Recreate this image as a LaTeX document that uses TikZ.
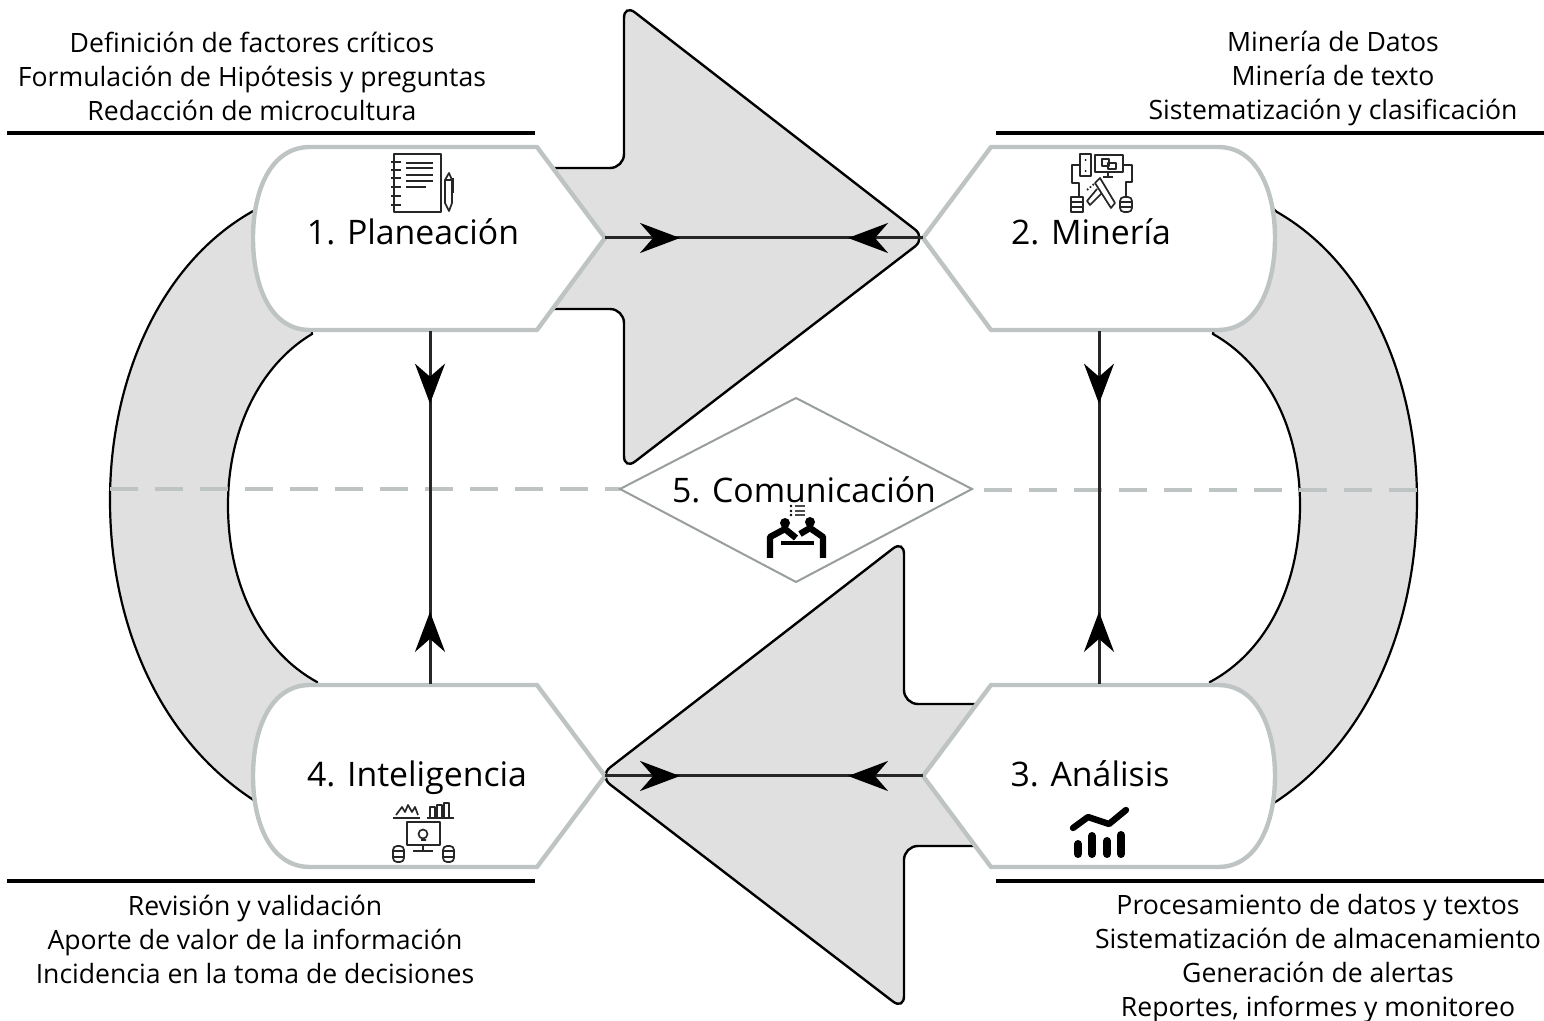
\documentclass[tikz,border=0pt]{standalone}
\usepackage{fontspec}
\setmainfont{Open Sans}
\usetikzlibrary{arrows.meta,decorations.markings}
\definecolor{ringgray}{HTML}{E0E0E0}
\definecolor{edgegray}{HTML}{BEC4C4}
\tikzset{
  ring/.style={draw=black,line width=1.1pt,fill=ringgray},
  bigarrow/.style={draw=black,line width=1.2pt,fill=ringgray,rounded corners=7pt},
  stagebox/.style={draw=edgegray,line width=2.2pt,fill=white,line join=round},
  rulebar/.style={draw=black,line width=1.7pt},
  stagename/.style={font=\fontsize{16.9}{20}\selectfont},
  tasklist/.style={font=\fontsize{13.3}{17}\selectfont,align=center},
  midline/.style={draw=edgegray,line width=2.4pt,dash pattern=on 14pt off 8.5pt},
  icon/.style={draw=black!85,line width=.85pt,line join=round},
  bold/.style={draw=black,line width=3.2pt,line cap=round},
  flowline/.style={draw=black!85,line width=1.5pt},
  twoheads/.style 2 args={flowline,postaction={decorate,decoration={markings,
    mark=at position #1 with {\arrow[black]{Stealth[length=20pt,width=15pt,inset=6.5pt]}},
    mark=at position #2 with {\arrow[black]{Stealth[length=20pt,width=15pt,inset=6.5pt,reversed]}}}}},
}
\begin{document}
\begin{tikzpicture}[x=.5pt,y=-.5pt]
\useasboundingbox (0,0) rectangle (1544,1021);
% side rings
\draw[ring] (300,170) -- (255,210) .. controls (160,262) and (110,380) .. (110,500)
  .. controls (110,625) and (160,740) .. (255,801) -- (300,830) -- (317,682)
  .. controls (262,652) and (228,586) .. (228,505) .. controls (228,430) and (260,365) .. (312,334) -- cycle;
\draw[ring] (1228,170) -- (1277,212) .. controls (1368,264) and (1417,380) .. (1417,500)
  .. controls (1417,625) and (1368,740) .. (1277,801) -- (1228,830) -- (1210,682)
  .. controls (1266,652) and (1300,586) .. (1300,505) .. controls (1300,430) and (1268,365) .. (1213,334) -- cycle;
% big arrows
\draw[bigarrow] (540,168) -- (624,168) -- (624,4) -- (926,238) -- (624,470) -- (624,309) -- (540,309) -- cycle;
\draw[bigarrow] (1000,704) -- (904,704) -- (904,540) -- (599,776) -- (904,1010) -- (904,846) -- (1000,846) -- cycle;
% rules over the lists
\draw[rulebar] (7,133) -- (535,133);
\draw[rulebar] (996,133) -- (1544,133);
\draw[rulebar] (7,881) -- (535,881);
\draw[rulebar] (996,881) -- (1544,881);
% stages
\draw[stagebox] (537,147) -- (605,238) -- (537,330) -- (310,330) .. controls (270,330) and (253,285) .. (253,238)
  .. controls (253,192) and (270,147) .. (310,147) -- cycle;
\draw[stagebox] (991,147) -- (923,238) -- (991,330) -- (1218,330) .. controls (1258,330) and (1275,285) .. (1275,238)
  .. controls (1275,192) and (1258,147) .. (1218,147) -- cycle;
\draw[stagebox] (991,685) -- (923,776) -- (991,867) -- (1218,867) .. controls (1258,867) and (1275,822) .. (1275,776)
  .. controls (1275,730) and (1258,685) .. (1218,685) -- cycle;
\draw[stagebox] (537,685) -- (605,776) -- (537,867) -- (310,867) .. controls (270,867) and (253,822) .. (253,776)
  .. controls (253,730) and (270,685) .. (310,685) -- cycle;
\coordinate (planR) at (605,238);
\coordinate (minL) at (923,238);
\coordinate (intR) at (605,776);
\coordinate (anaL) at (923,776);
\coordinate (planS) at (430,331);
\coordinate (intN) at (430,684);
\coordinate (minS) at (1099,331);
\coordinate (anaN) at (1099,684);
% center line and diamond
\draw[midline] (110,489) -- (620,489);
\draw[midline] (1417,490) -- (972,490);
\draw[twoheads={.206}{.909}] (planS) -- (intN);
\draw[twoheads={.206}{.909}] (minS) -- (anaN);
\draw[twoheads={.236}{.89}] (planR) -- (minL);
\draw[twoheads={.236}{.89}] (intR) -- (anaL);
\draw[draw=edgegray!80!black,line width=1pt,fill=white] (620,489) -- (796,398) -- (972,489) -- (796,582) -- cycle;
% names
\node[stagename] (plan) at (413,232) {1. Planeación};
\node[stagename] (min) at (1091,232) {2. Minería};
\node[stagename] (ana) at (1090,774) {3. Análisis};
\node[stagename] (int) at (417,778) {4. Inteligencia};
\node[stagename] (com) at (804,490) {5. Comunicación};
% lists
\node[tasklist] (listA) at (252,76) {Definición de factores críticos\\Formulación de Hipótesis y preguntas\\Redacción de microcultura};
\node[tasklist] (listB) at (1333,79) {Minería de Datos\\Minería de texto\\Sistematización y clasificación};
\node[tasklist] (listC) at (1318,959) {Procesamiento de datos y textos\\Sistematización de almacenamiento\\Generación de alertas\\Reportes, informes y monitoreo};
\node[tasklist] (listD) at (255,939) {Revisión y validación\\Aporte de valor de la información\\Incidencia en la toma de decisiones};
% notebook
\draw[icon] (394,154) rectangle (441,212);
\foreach \y in {162,170,178,187,196,205} \draw[icon] (391,\y) -- (401,\y);
\foreach \y in {163,168,175,181} \draw[icon] (406,\y) -- (433,\y);
\draw[icon] (406,187) -- (426,187);
\draw[icon] (445,180) -- (445,203) -- (449,211) -- (452,203) -- (452,180) -- (449,173) -- cycle;
\draw[icon] (445,180) -- (452,180) (453,178) -- (453,193);
% mining
\draw[icon] (1080,154) rectangle (1091,176);
\fill (1085.5,160) circle (1) (1085.5,171) circle (1);
\draw[icon] (1095,155) rectangle (1123,172);
\draw[icon] (1102,159) rectangle (1109,166) (1108,163) rectangle (1116,169);
\draw[icon] (1108,172) -- (1108,177) (1103,177) -- (1113,177);
\draw[icon] (1080,165) -- (1072,165) -- (1072,183) -- (1079,183) -- (1079,196);
\draw[icon] (1123,165) -- (1132,165) -- (1132,182) -- (1126,182) -- (1126,196);
\draw[icon] (1071,197) rectangle (1083,212) (1071,202) -- (1083,202) (1071,207) -- (1083,207);
\draw[icon,rounded corners=2pt] (1120,197) rectangle (1132,212);
\draw[icon] (1120,202) -- (1132,202) (1120,207) -- (1132,207);
\draw[icon] (1095,183) -- (1100,178) -- (1115,203) -- (1111,208) -- cycle (1097,189) -- (1087,201) -- (1090,205) -- (1101,194);
\draw[icon,densely dotted] (1087,190) -- (1094,184);
% analysis
\draw[bold,line join=round] (1073,828) -- (1088,817) -- (1109,824) -- (1126,810);
\foreach \x/\y in {1078/840,1092/832,1107/837,1121/831} \draw[black,line width=4pt,line cap=round] (\x,\y+4) -- (\x,854);
% intelligence
\draw[icon] (393,818) -- (420,818) (427,818) -- (454,818);
\draw[icon] (396,815) -- (402,807) -- (405,812) -- (408,805) -- (412,812) -- (415,807) -- (418,815);
\draw[icon] (430,817) -- (430,807) -- (435,807) -- (435,817) (437,817) -- (437,805) -- (442,805) -- (442,817) (444,817) -- (444,803) -- (449,803) -- (449,817);
\draw[icon] (407,822) rectangle (440,845);
\draw[icon] (423,845) -- (423,851) (413,851) -- (433,851);
\draw[icon] (423,834) circle (4.5) (421,840) -- (426,840);
\foreach \x in {393,443} {
  \draw[icon,rounded corners=2pt] (\x,846) rectangle (\x+11,862);
  \draw[icon] (\x,851) -- (\x+11,851) (\x,857) -- (\x+11,857);
}
% communication
\fill (785,523) circle (5) (810,522) circle (5);
\draw[bold,line cap=butt,line join=round] (770,558) -- (770,537) -- (785,529) -- (796,538);
\draw[bold,line cap=butt,line join=round] (823,558) -- (823,537) -- (810,528) -- (800,534);
\draw[black,line width=1.6pt] (781,543) -- (814,543);
\foreach \y in {506,511,515} {
  \fill (791,\y) circle (1.3);
  \draw[black!70,line width=.6pt] (795,\y) -- (805,\y);
}
\end{tikzpicture}
\end{document}
